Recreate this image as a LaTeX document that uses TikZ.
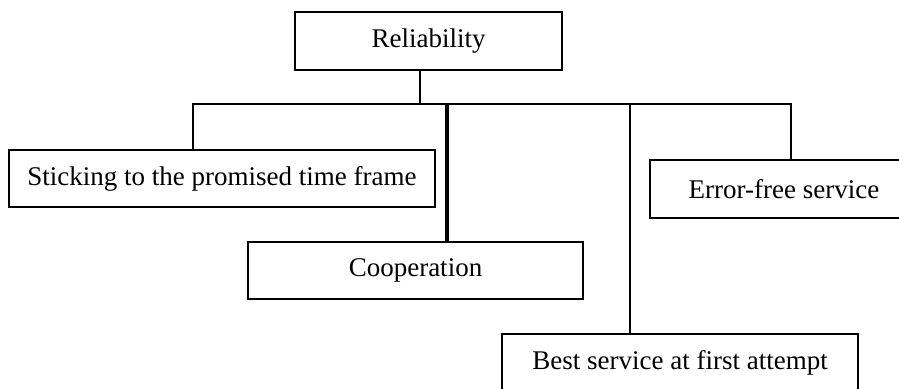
\documentclass[tikz,border=0pt]{standalone}
\usepackage{fontspec}
\setmainfont{Liberation Serif}
\begin{document}
\begin{tikzpicture}[x=1pt,y=-1pt,
  box/.style={draw=black,line width=2.2pt,inner sep=0pt,anchor=center,
    font=\fontsize{27}{32}\selectfont},
  link/.style={draw=black,line width=2.6pt},
  thicklink/.style={draw=black,line width=3.8pt}]
\clip (0,0) rectangle (899,388);
\node[box,minimum width=267pt,minimum height=58pt] (rel) at (428.5,41) {Reliability};
\node[box,minimum width=426pt,minimum height=57pt] (stick) at (222,178.5) {Sticking to the promised time frame};
\node[box,minimum width=335pt,minimum height=57pt] (coop) at (415.5,270.5) {Cooperation};
\node[box,minimum width=356pt,minimum height=58pt] (best) at (680,363) {Best service at first attempt};
\node[box,minimum width=268pt,minimum height=58pt] (err) at (784,189) {Error-free service};
\coordinate (jt) at (420,104);
\coordinate (jl) at (193,104);
\coordinate (jc) at (447,104);
\coordinate (jb) at (630,104);
\coordinate (jr) at (791,104);
\draw[link] (jt |- rel.south) -- (jt);
\draw[link] (jl |- stick.north) -- (jl) -- (jr) -- (jr |- err.north);
\draw[thicklink] (jc) -- (jc |- coop.north);
\draw[link] (jb) -- (jb |- best.north);
\end{tikzpicture}
\end{document}
